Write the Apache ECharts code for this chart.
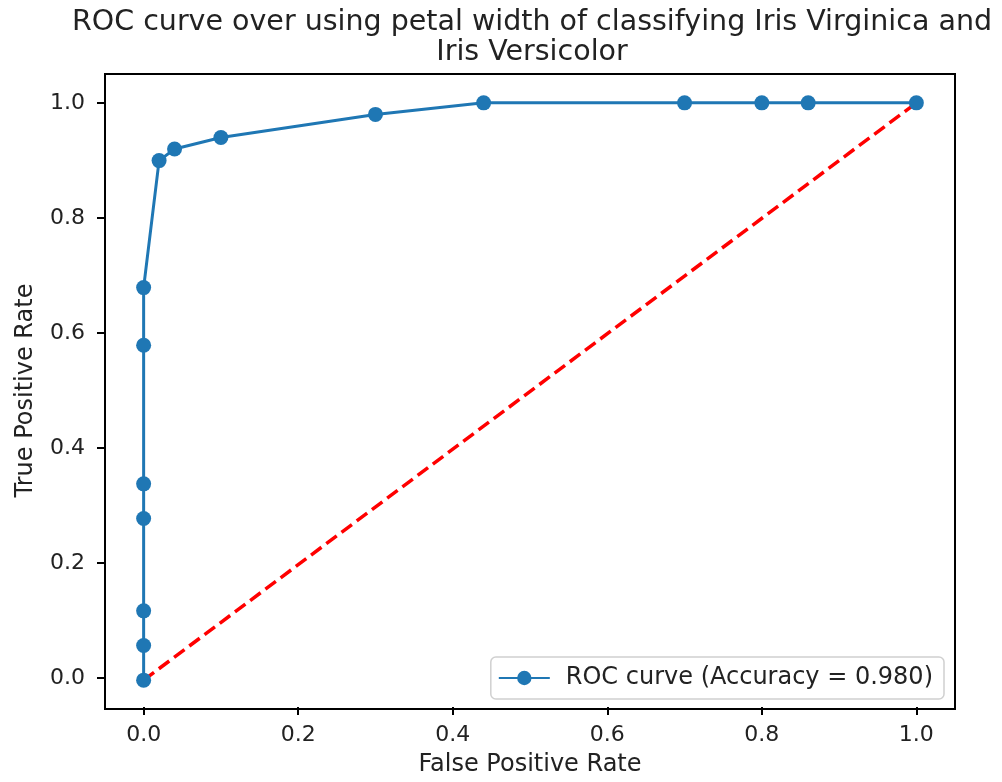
<!DOCTYPE html>
<html><head><meta charset="utf-8">
<script src="https://cdn.jsdelivr.net/npm/echarts@6/dist/echarts.min.js"></script>
<style>html,body{margin:0;padding:0;background:#fff}#c{width:1002px;height:782px}</style>
</head><body><div id="c"></div>
<script>
const fpr = [0, 0, 0, 0, 0, 0, 0, 0.02, 0.04, 0.10, 0.30, 0.44, 0.70, 0.80, 0.86, 1.0];
const tpr = [0, 0.06, 0.12, 0.28, 0.34, 0.58, 0.68, 0.90, 0.92, 0.94, 0.98, 1.0, 1.0, 1.0, 1.0, 1.0];
const diagX = [0, 1];
const diagY = [0, 1];
const tickMin = 0, tickMax = 1, tickStep = 0.2;
const titleText = 'ROC curve over using petal width of classifying Iris Virginica and\nIris Versicolor';
const legendName = 'ROC curve (Accuracy = 0.980)';
const xName = 'False Positive Rate';
const yName = 'True Positive Rate';

const font = 'DejaVu Sans';
const txt = '#222';
const W = 1002, H = 782;
const fL = 105, fR = 47, fT = 74, fB = 73;
const pad = 0.05;
const fw = W - fL - fR, fh = H - fT - fB;
const mx = fw * pad / (1 + 2 * pad), my = fh * pad / (1 + 2 * pad);

const chart = echarts.init(document.getElementById('c'));
chart.setOption({
  animation: false,
  title: {text: titleText, left: 527, textAlign: 'center', top: 3,
    textStyle: {fontFamily: font, fontSize: 28.5, fontWeight: 'normal', color: txt, lineHeight: 30}},
  grid: [
    {left: fL, right: fR, top: fT, bottom: fB, show: true, borderColor: '#000', borderWidth: 2},
    {left: fL + mx, right: fR + mx, top: fT + my, bottom: fB + my, show: false}
  ],
  xAxis: [
    {type: 'value', gridIndex: 0, min: tickMin - pad, max: tickMax + pad, show: false},
    {type: 'value', gridIndex: 1, min: tickMin, max: tickMax, interval: tickStep, position: 'bottom', offset: my,
      name: xName, nameLocation: 'middle', nameGap: 46,
      nameTextStyle: {fontFamily: font, fontSize: 24, color: txt},
      axisLine: {show: true, onZero: false, lineStyle: {color: 'rgba(0,0,0,0)', width: 1}},
      axisTick: {show: true, length: 8, lineStyle: {color: '#000', width: 2}},
      axisLabel: {fontFamily: font, fontSize: 22, color: txt, margin: 17, formatter: v => v.toFixed(1)},
      splitLine: {show: false}}
  ],
  yAxis: [
    {type: 'value', gridIndex: 0, min: tickMin - pad, max: tickMax + pad, show: false},
    {type: 'value', gridIndex: 1, min: tickMin, max: tickMax, interval: tickStep, position: 'left', offset: mx,
      name: yName, nameLocation: 'middle', nameGap: 67,
      nameTextStyle: {fontFamily: font, fontSize: 24, color: txt},
      axisLine: {show: true, onZero: false, lineStyle: {color: 'rgba(0,0,0,0)', width: 1}},
      axisTick: {show: true, length: 8, lineStyle: {color: '#000', width: 2}},
      axisLabel: {fontFamily: font, fontSize: 22, color: txt, margin: 20, formatter: v => v.toFixed(1)},
      splitLine: {show: false}}
  ],
  legend: {
    right: 58, bottom: 83, orient: 'vertical',
    data: [{name: legendName}],
    itemWidth: 51, itemHeight: 18,
    padding: [9, 11, 9, 7],
    borderColor: '#d0d0d0', borderWidth: 1.5, borderRadius: 5, backgroundColor: 'rgba(255,255,255,0.8)',
    textStyle: {fontFamily: font, fontSize: 24, color: txt, padding: [0, 0, 0, 11]}
  },
  series: [
    {name: 'diag', type: 'line', xAxisIndex: 0, yAxisIndex: 0, data: diagX.map((x, i) => [x, diagY[i]]),
      showSymbol: false, symbol: 'none',
      lineStyle: {color: '#ff0000', width: 3.5, type: [13, 6]}, z: 1, silent: true},
    {name: legendName, type: 'line', xAxisIndex: 0, yAxisIndex: 0, data: fpr.map((x, i) => [x, tpr[i]]),
      symbol: 'circle', symbolSize: 15, showAllSymbol: true,
      itemStyle: {color: '#1f77b4'}, lineStyle: {color: '#1f77b4', width: 3}, z: 2}
  ]
});
</script></body></html>
